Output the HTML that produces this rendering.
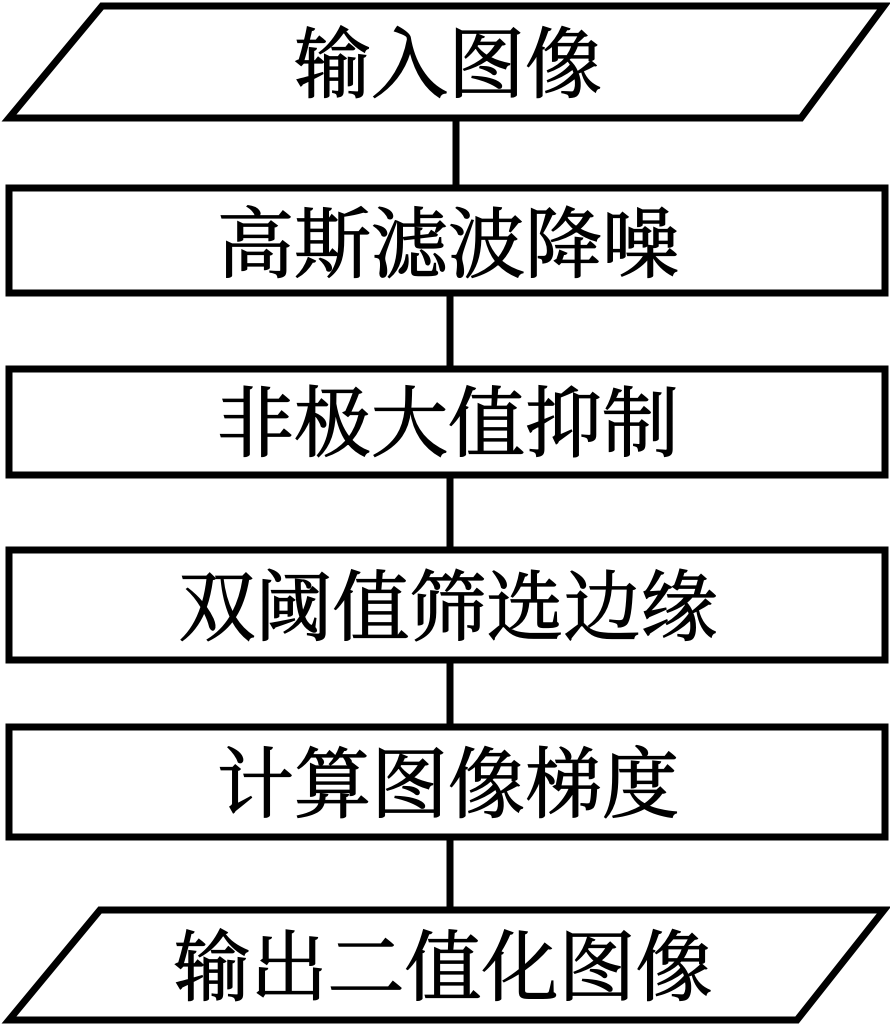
<!DOCTYPE html>
<html><head><meta charset="utf-8"><style>
html,body{margin:0;padding:0;background:#fff;}
svg{display:block;}
text{font-family:"Noto Serif CJK SC","Liberation Serif",serif;font-size:77px;font-weight:400;fill:#000;stroke:#000;stroke-width:1.2;text-anchor:middle;dominant-baseline:central;}
</style></head><body>
<svg width="890" height="1029" viewBox="0 0 890 1029" xmlns="http://www.w3.org/2000/svg">
<g stroke="#000" stroke-width="7" fill="none">
<line x1="456" y1="118" x2="456" y2="188"/>
<line x1="450" y1="293" x2="450" y2="369"/>
<line x1="450" y1="475" x2="450" y2="550"/>
<line x1="450" y1="660" x2="450" y2="727"/>
<line x1="450" y1="837" x2="450" y2="910"/>
<polygon points="102,6 884,6 801,118 9,118" fill="#fff"/>
<rect x="9" y="188" width="876" height="105" fill="#fff"/>
<rect x="9" y="369" width="876" height="106" fill="#fff"/>
<rect x="9" y="550" width="876" height="110" fill="#fff"/>
<rect x="9" y="727" width="876" height="110" fill="#fff"/>
<polygon points="100,910 884,910 797,1020 9,1020" fill="#fff"/>
</g>
<text x="448" y="59">输入图像</text>
<text x="448" y="239">高斯滤波降噪</text>
<text x="448" y="418">非极大值抑制</text>
<text x="448" y="602">双阈值筛选边缘</text>
<text x="448" y="779">计算图像梯度</text>
<text x="443" y="962">输出二值化图像</text>
</svg>
</body></html>
